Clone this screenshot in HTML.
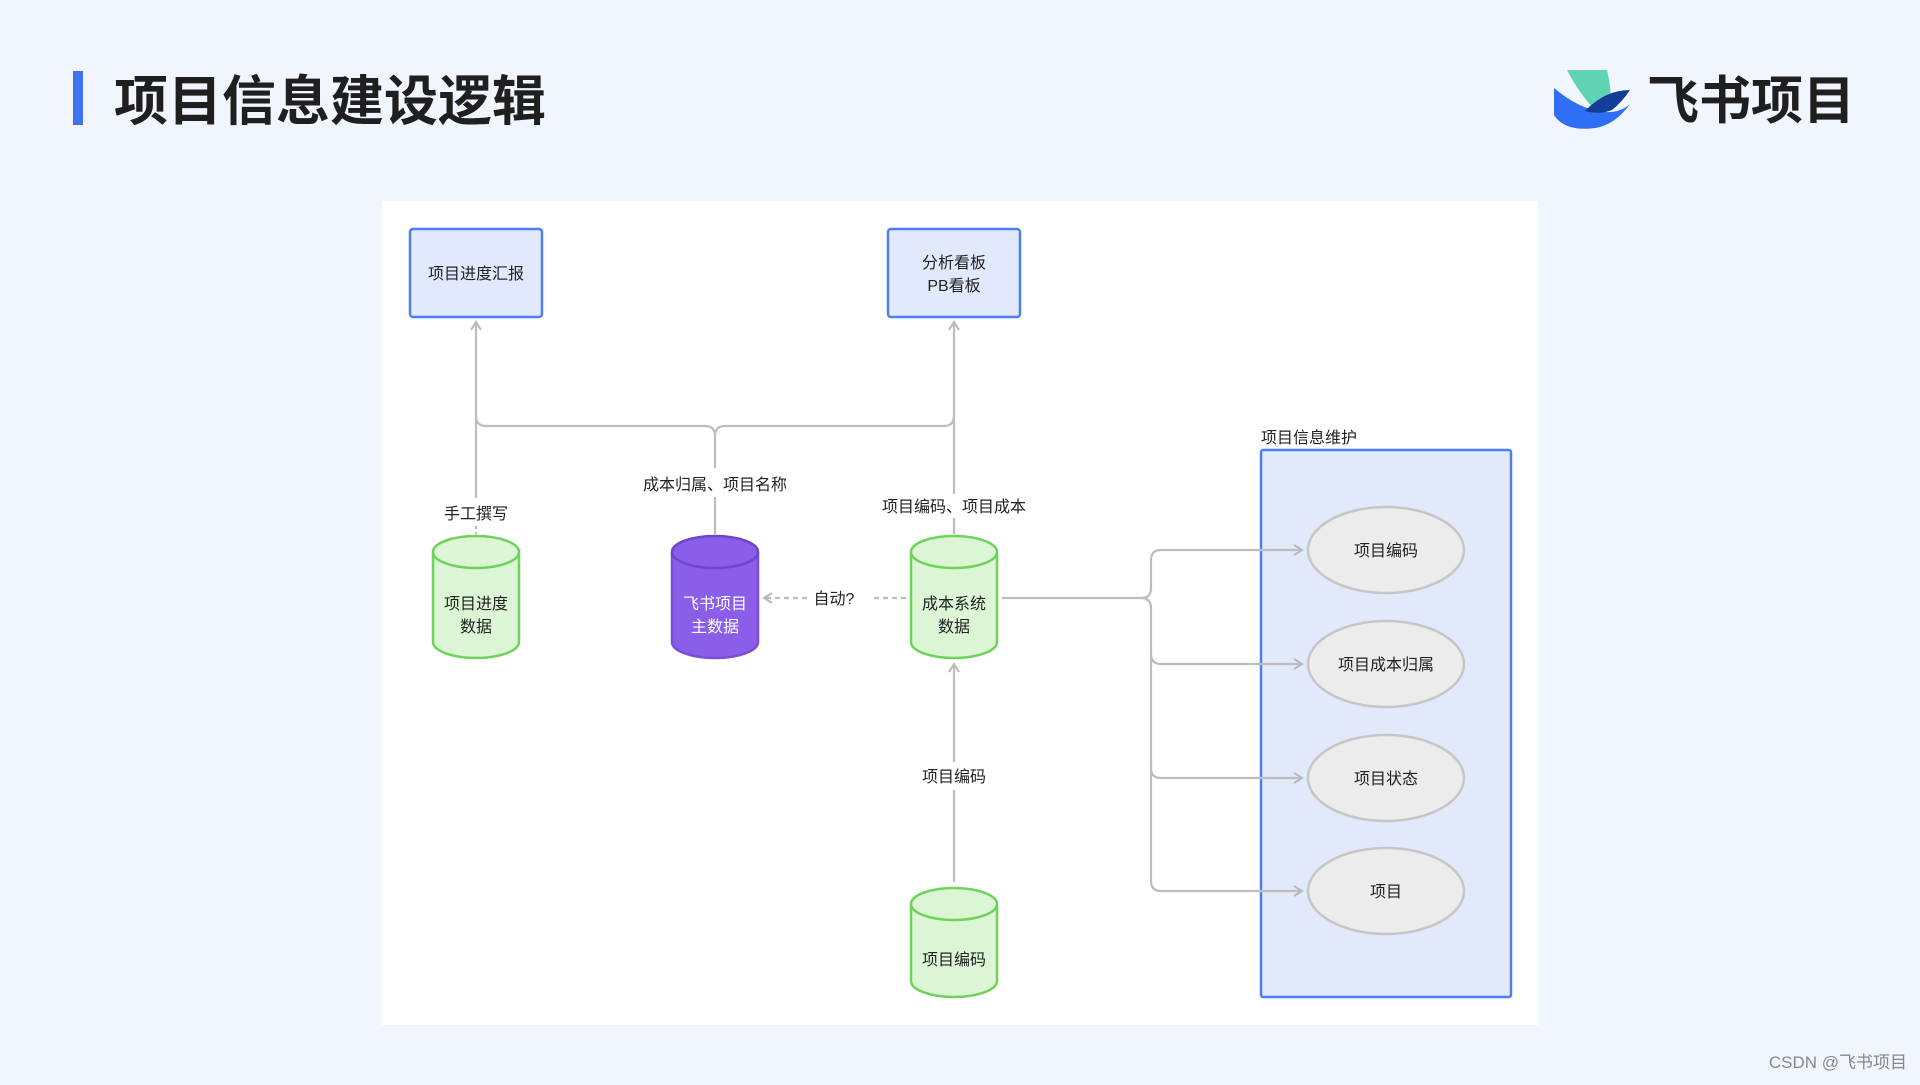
<!DOCTYPE html>
<html><head><meta charset="utf-8">
<style>
html,body{margin:0;padding:0;background:#f1f5fe;}
body{width:1920px;height:1080px;overflow:hidden;position:relative;font-family:"Liberation Sans","Noto Sans CJK SC",sans-serif;}
svg text{font-family:"Liberation Sans","Noto Sans CJK SC",sans-serif;}
</style></head>
<body>
<svg width="1920" height="1080" viewBox="0 0 1920 1080" xmlns="http://www.w3.org/2000/svg">
<defs>
<marker id="ar" viewBox="0 0 12 12" refX="10" refY="6" markerWidth="12" markerHeight="12" markerUnits="userSpaceOnUse" orient="auto">
<path d="M2,1 L10,6 L2,11" fill="none" stroke="#b8b8b8" stroke-width="2"/>
</marker>
</defs>
<rect x="0" y="0" width="1920" height="1080" fill="#f1f5fe"/>
<rect x="73" y="71" width="10" height="54" fill="#3c72f3"/>
<text x="114" y="120" font-size="54" font-weight="bold" fill="#1f1f1f">项目信息建设逻辑</text>
<path d="M1567,70 L1607,70 Q1612,92 1610,102 L1597,112 Q1580,95 1567,70 Z" fill="#5fd3b3"/>
<path d="M1554,88 Q1580,110 1605,112 Q1620,113 1630,104 Q1615,125 1595,128 Q1565,132 1554,115 Z" fill="#2f6ef5"/>
<path d="M1585,111 Q1605,90 1630,90 Q1622,102 1612,110 Q1600,115 1585,111 Z" fill="#123e9a"/>
<text x="1647" y="119" font-size="52" font-weight="bold" fill="#1f1f1f">飞书项目</text>
<rect x="382" y="201" width="1156" height="824" fill="#ffffff"/>
<rect x="410" y="229" width="132" height="88" rx="3" fill="#e1e9fc" stroke="#4e7ff0" stroke-width="2.5"/>
<text x="476" y="279" font-size="16" text-anchor="middle" fill="#222">项目进度汇报</text>
<rect x="888" y="229" width="132" height="88" rx="3" fill="#e1e9fc" stroke="#4e7ff0" stroke-width="2.5"/>
<text x="954" y="268" font-size="16" text-anchor="middle" fill="#222">分析看板</text>
<text x="954" y="291" font-size="16" text-anchor="middle" fill="#222">PB看板</text>
<text x="1261" y="443" font-size="16" fill="#222">项目信息维护</text>
<rect x="1261" y="450" width="250" height="547" rx="2" fill="#e2e9fb" stroke="#4e7ff0" stroke-width="2.5"/>
<g fill="none" stroke="#bdbdbd" stroke-width="2.2">
<line x1="476" y1="498" x2="476" y2="322" marker-end="url(#ar)"/>
<line x1="476" y1="526" x2="476" y2="534" stroke-dasharray="3,3"/>
<path d="M476,416 Q476,426 486,426 L705,426 Q715,426 715,436 Q715,426 725,426 L944,426 Q954,426 954,416"/>
<line x1="715" y1="436" x2="715" y2="468"/>
<line x1="715" y1="497" x2="715" y2="534"/>
<line x1="954" y1="494" x2="954" y2="322" marker-end="url(#ar)"/>
<line x1="954" y1="518" x2="954" y2="534"/>
<line x1="906" y1="598" x2="870" y2="598" stroke-dasharray="5,4"/>
<line x1="807" y1="598" x2="764" y2="598" stroke-dasharray="5,4" marker-end="url(#ar)"/>
<line x1="954" y1="762" x2="954" y2="664" marker-end="url(#ar)"/>
<line x1="954" y1="882" x2="954" y2="790"/>
<path d="M1002,598 L1141,598 Q1151,598 1151,588 L1151,560 Q1151,550 1161,550 L1302,550" marker-end="url(#ar)"/>
<path d="M1141,598 Q1151,598 1151,608 L1151,654 Q1151,664 1161,664 L1302,664" marker-end="url(#ar)"/>
<path d="M1151,650 L1151,768 Q1151,778 1161,778 L1302,778" marker-end="url(#ar)"/>
<path d="M1151,760 L1151,881 Q1151,891 1161,891 L1302,891" marker-end="url(#ar)"/>
</g>
<text x="476" y="519" font-size="16" text-anchor="middle" fill="#222">手工撰写</text>
<text x="715" y="490" font-size="16" text-anchor="middle" fill="#222">成本归属、项目名称</text>
<text x="954" y="512" font-size="16" text-anchor="middle" fill="#222">项目编码、项目成本</text>
<text x="834" y="604" font-size="16" text-anchor="middle" fill="#222">自动?</text>
<text x="954" y="782" font-size="16" text-anchor="middle" fill="#222">项目编码</text>
<g stroke-width="2.5">
<path d="M433,552 L433,642 A43,16 0 0 0 519,642 L519,552" fill="#dcf5d5" stroke="#6fd35b"/>
<ellipse cx="476" cy="552" rx="43" ry="16" fill="#dcf5d5" stroke="#6fd35b"/>
<path d="M672,552 L672,642 A43,16 0 0 0 758,642 L758,552" fill="#8a5ee9" stroke="#7a4ed8"/>
<ellipse cx="715" cy="552" rx="43" ry="16" fill="#8a5ee9" stroke="#6f45cc"/>
<path d="M911,552 L911,642 A43,16 0 0 0 997,642 L997,552" fill="#dcf5d5" stroke="#6fd35b"/>
<ellipse cx="954" cy="552" rx="43" ry="16" fill="#dcf5d5" stroke="#6fd35b"/>
<path d="M911,904 L911,981 A43,16 0 0 0 997,981 L997,904" fill="#dcf5d5" stroke="#6fd35b"/>
<ellipse cx="954" cy="904" rx="43" ry="16" fill="#dcf5d5" stroke="#6fd35b"/>
</g>
<text x="476" y="609" font-size="16" text-anchor="middle" fill="#222">项目进度</text>
<text x="476" y="632" font-size="16" text-anchor="middle" fill="#222">数据</text>
<text x="715" y="609" font-size="16" text-anchor="middle" fill="#ffffff">飞书项目</text>
<text x="715" y="632" font-size="16" text-anchor="middle" fill="#ffffff">主数据</text>
<text x="954" y="609" font-size="16" text-anchor="middle" fill="#222">成本系统</text>
<text x="954" y="632" font-size="16" text-anchor="middle" fill="#222">数据</text>
<text x="954" y="965" font-size="16" text-anchor="middle" fill="#222">项目编码</text>
<g fill="#ececec" stroke="#c6c6c6" stroke-width="2.5">
<ellipse cx="1386" cy="550" rx="78" ry="43"/>
<ellipse cx="1386" cy="664" rx="78" ry="43"/>
<ellipse cx="1386" cy="778" rx="78" ry="43"/>
<ellipse cx="1386" cy="891" rx="78" ry="43"/>
</g>
<text x="1386" y="556" font-size="16" text-anchor="middle" fill="#222">项目编码</text>
<text x="1386" y="670" font-size="16" text-anchor="middle" fill="#222">项目成本归属</text>
<text x="1386" y="784" font-size="16" text-anchor="middle" fill="#222">项目状态</text>
<text x="1386" y="897" font-size="16" text-anchor="middle" fill="#222">项目</text>
<text x="1907" y="1068" font-size="17" text-anchor="end" fill="#888">CSDN @飞书项目</text>
</svg>
</body></html>
